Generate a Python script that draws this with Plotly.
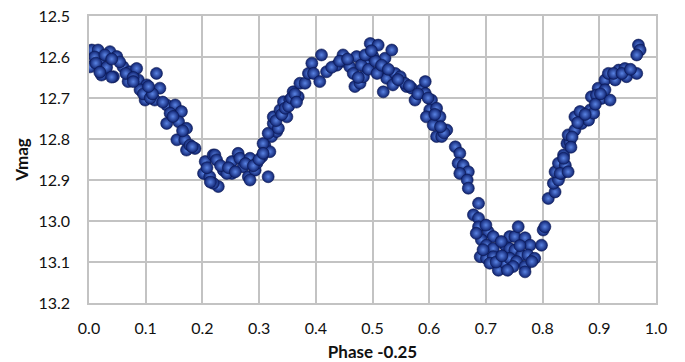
import plotly.graph_objects as go

phase = [
    0.005, 0.016, 0.037, 0.049, 0.002, 0.019, 0.022, 0.043, 0.060, 0.072, 0.084, 0.069, 0.087, 0.119, 0.102,
    0.090, 0.125, 0.099, 0.116, 0.137, 0.152, 0.163, 0.143, 0.137, 0.158, 0.172, 0.155, 0.169, 0.187, 0.172,
    0.010, 0.028, 0.031, 0.054, 0.065, 0.078, 0.096, 0.108, 0.112, 0.130, 0.148, 0.165, 0.178, 0.012, 0.040,
    0.019, 0.040, 0.078, 0.105,
    0.205, 0.219, 0.182, 0.222, 0.225, 0.202, 0.213, 0.228, 0.219, 0.237, 0.252, 0.252, 0.263, 0.266, 0.272,
    0.284, 0.281, 0.293, 0.296, 0.305, 0.310, 0.319, 0.316, 0.322, 0.331, 0.243, 0.284,
    0.208, 0.232, 0.246, 0.258, 0.276, 0.290, 0.300, 0.214,
    0.307, 0.307, 0.316, 0.325, 0.334, 0.325, 0.337, 0.343, 0.349, 0.354, 0.360, 0.369, 0.372, 0.381, 0.387,
    0.393, 0.396, 0.407, 0.410, 0.419, 0.437, 0.448, 0.451, 0.460, 0.472, 0.466, 0.469, 0.478, 0.484, 0.490,
    0.496, 0.510, 0.501, 0.513, 0.522, 0.534, 0.519, 0.525, 0.540, 0.549, 0.560,
    0.330, 0.340, 0.346, 0.352, 0.357, 0.363, 0.366, 0.428, 0.442, 0.456, 0.480, 0.487, 0.493, 0.505, 0.508,
    0.516, 0.528, 0.475, 0.498,
    0.536, 0.557, 0.569, 0.575, 0.587, 0.593, 0.593, 0.604, 0.601, 0.613, 0.595, 0.619, 0.607, 0.631, 0.613,
    0.622, 0.646, 0.654, 0.545, 0.565, 0.580, 0.598, 0.610, 0.626, 0.620,
    0.651, 0.660, 0.669, 0.654, 0.667, 0.669, 0.687, 0.678, 0.687, 0.687, 0.704, 0.692, 0.713, 0.701, 0.713,
    0.690, 0.701, 0.713, 0.707, 0.722, 0.734, 0.734, 0.742, 0.751, 0.757, 0.769, 0.778, 0.742, 0.751, 0.763,
    0.742, 0.754, 0.774, 0.786, 0.748, 0.769, 0.781, 0.769, 0.798, 0.801, 0.804, 0.810, 0.822, 0.819, 0.828,
    0.822, 0.834, 0.828, 0.840, 0.837, 0.843,
    0.695, 0.718, 0.728, 0.738, 0.760, 0.727, 0.700, 0.683,
    0.831, 0.845, 0.837, 0.848, 0.845, 0.857, 0.857, 0.866, 0.869, 0.881, 0.884, 0.890, 0.886, 0.898, 0.904,
    0.919, 0.910, 0.916, 0.928, 0.934, 0.945, 0.948, 0.966, 0.969, 0.972, 0.966, 0.895, 0.910, 0.925,
    0.852, 0.862, 0.875, 0.893, 0.902, 0.940, 0.955, 0.850,
]

vmag = [
    12.583, 12.583, 12.587, 12.599, 12.624, 12.607, 12.644, 12.648, 12.624, 12.636, 12.628, 12.660, 12.656, 12.640, 12.668,
    12.680, 12.676, 12.705, 12.705, 12.717, 12.717, 12.733, 12.737, 12.762, 12.758, 12.774, 12.802, 12.802, 12.823, 12.827,
    12.600, 12.595, 12.625, 12.612, 12.640, 12.650, 12.690, 12.700, 12.690, 12.710, 12.745, 12.780, 12.815, 12.615, 12.605,
    12.637, 12.649, 12.660, 12.672,
    12.855, 12.839, 12.819, 12.839, 12.851, 12.884, 12.892, 12.916, 12.908, 12.876, 12.884, 12.855, 12.835, 12.847, 12.868,
    12.847, 12.892, 12.876, 12.859, 12.843, 12.815, 12.831, 12.892, 12.794, 12.782, 12.884, 12.900,
    12.870, 12.865, 12.870, 12.880, 12.860, 12.865, 12.850, 12.905,
    12.811, 12.835, 12.786, 12.762, 12.774, 12.746, 12.729, 12.709, 12.746, 12.705, 12.685, 12.697, 12.664, 12.664, 12.640,
    12.615, 12.640, 12.660, 12.595, 12.636, 12.620, 12.595, 12.611, 12.624, 12.599, 12.640, 12.672, 12.664, 12.648, 12.615,
    12.567, 12.571, 12.599, 12.632, 12.603, 12.583, 12.685, 12.652, 12.640, 12.648, 12.672,
    12.755, 12.740, 12.725, 12.720, 12.700, 12.690, 12.710, 12.625, 12.610, 12.605, 12.620, 12.595, 12.630, 12.610, 12.640,
    12.620, 12.630, 12.650, 12.585,
    12.668, 12.664, 12.676, 12.705, 12.680, 12.660, 12.689, 12.705, 12.729, 12.725, 12.746, 12.746, 12.766, 12.778, 12.794,
    12.794, 12.819, 12.835, 12.655, 12.670, 12.690, 12.700, 12.740, 12.785, 12.770,
    12.859, 12.864, 12.880, 12.884, 12.900, 12.920, 12.957, 12.985, 12.993, 13.014, 13.026, 13.046, 13.038, 13.059, 13.067,
    13.087, 13.091, 13.087, 13.103, 13.120, 13.103, 13.059, 13.038, 13.038, 13.014, 13.041, 13.059, 13.067, 13.071, 13.083,
    13.091, 13.099, 13.083, 13.091, 13.111, 13.111, 13.099, 13.124, 13.059, 13.022, 13.014, 12.945, 12.929, 12.908, 12.900,
    12.880, 12.884, 12.859, 12.864, 12.839, 12.811,
    13.070, 13.100, 13.085, 13.120, 13.060, 13.050, 13.010, 13.030,
    12.884, 12.880, 12.847, 12.807, 12.790, 12.778, 12.746, 12.733, 12.762, 12.754, 12.729, 12.737, 12.697, 12.676, 12.701,
    12.705, 12.656, 12.640, 12.656, 12.632, 12.628, 12.648, 12.640, 12.571, 12.583, 12.595, 12.693, 12.680, 12.640,
    12.795, 12.760, 12.740, 12.715, 12.690, 12.640, 12.630, 12.820,
]

x_ticks = [0.0, 0.1, 0.2, 0.3, 0.4, 0.5, 0.6, 0.7, 0.8, 0.9, 1.0]
y_ticks = [12.5, 12.6, 12.7, 12.8, 12.9, 13.0, 13.1, 13.2]

fig = go.Figure()
fig.add_trace(go.Scatter(
    x=phase, y=vmag, mode="markers",
    marker=dict(size=12, color="#0f2270",
                gradient=dict(type="radial", color="#5a84e4"),
                line=dict(color="#0a1850", width=0.6)),
    showlegend=False,
))

grid = "#c3c3c3"
fig.update_layout(
    width=685, height=362,
    margin=dict(l=89, r=29, t=16, b=59),
    paper_bgcolor="white", plot_bgcolor="white",
    font=dict(family="Lato", size=16, color="#111111"),
    xaxis=dict(range=[0, 1.0], tickvals=x_ticks, ticktext=[f"{v:.1f}" for v in x_ticks],
               showgrid=True, gridcolor=grid, gridwidth=1.5, zeroline=False,
               showline=True, linecolor=grid, linewidth=1.5, mirror=True,
               ticks="", ticklabelstandoff=10, automargin=False,
               title=dict(text="<b>Phase -0.25</b>", font=dict(size=17, color="#111111"), standoff=15)),
    yaxis=dict(range=[13.2, 12.5], tickvals=y_ticks, ticktext=[f"{v:.1f}" for v in y_ticks],
               showgrid=True, gridcolor=grid, gridwidth=1.5, zeroline=False,
               showline=True, linecolor=grid, linewidth=1.5, mirror=True,
               ticks="", ticklabelstandoff=14, automargin=False,
               title=dict(text="<b>Vmag</b>", font=dict(size=17, color="#111111"), standoff=5)),
)

fig.write_html("out.html")
